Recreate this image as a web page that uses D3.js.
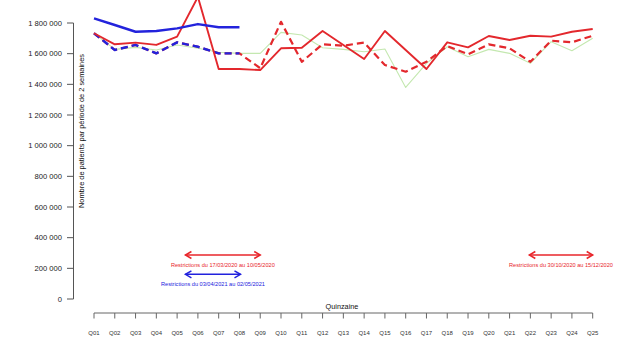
<!DOCTYPE html>
<html>
<head>
<meta charset="utf-8">
<script src="https://cdn.jsdelivr.net/npm/d3@7"></script>
<style>
  body { margin: 0; background: #fff; }
  svg { font-family: "Liberation Sans", Arial, sans-serif; }
</style>
</head>
<body>
<div id="chart"></div>
<script>
// quinzaines
const quinzaines = d3.range(1, 26).map(function(d){ return "Q" + (d < 10 ? "0" + d : d); });

// 2020 observed (red solid), 2020 expected (red dashed)
const obs2020 = [1733000, 1661000, 1672000, 1657000, 1711000, 1970000, 1500000, 1500000, 1493000,
  1635000, 1639000, 1748000, 1657000, 1565000, 1748000, 1624000, 1500000, 1674000, 1641000,
  1715000, 1689000, 1717000, 1711000, 1743000, 1761000];
const exp2020 = [1733000, 1624000, 1657000, 1602000, 1674000, 1645000, 1602000, 1602000, 1505000,
  1808000, 1547000, 1661000, 1652000, 1672000, 1526000, 1482000, 1547000, 1650000, 1596000,
  1661000, 1635000, 1547000, 1685000, 1674000, 1717000];
// 2021 observed (blue solid), 2021 expected (blue dashed)
const obs2021 = [1830000, 1787000, 1743000, 1748000, 1765000, 1793000, 1772000, 1772000];
const exp2021 = [1733000, 1624000, 1657000, 1602000, 1674000, 1645000, 1602000, 1602000];
// reference year (light green)
const ref = [1733000, 1628000, 1641000, 1624000, 1657000, 1635000, 1609000, 1602000, 1602000,
  1739000, 1722000, 1639000, 1628000, 1613000, 1630000, 1380000, 1537000, 1645000, 1580000,
  1628000, 1602000, 1537000, 1678000, 1619000, 1700000];

const yTicks = [0, 200000, 400000, 600000, 800000, 1000000, 1200000, 1400000, 1600000, 1800000];

// restriction periods: [start index, end index, y value, label]
const restrictions = [
  {x0: 4.4, x1: 8.0, y: 287000, label: "Restrictions du 17/03/2020 au 10/05/2020", color: "#e8262b"},
  {x0: 4.4, x1: 7.05, y: 161000, label: "Restrictions du 03/04/2021 au 02/05/2021", color: "#2222dd"},
  {x0: 20.95, x1: 24.0, y: 287000, label: "Restrictions du 30/10/2020 au 15/12/2020", color: "#e8262b"}
];

const W = 641, H = 361;
const svg = d3.select("#chart").append("svg").attr("width", W).attr("height", H);

const x = d3.scaleLinear().domain([0, 24]).range([94, 592.7]);
const y = d3.scaleLinear().domain([0, 1800000]).range([299, 23]);
const fmt = d3.formatLocale({decimal: ",", thousands: "\u00a0", grouping: [3], currency: ["", "€"]}).format(",d");

const red = "#e3282d", blue = "#2323dc", green = "#c4e8b0";

// y axis
const yAxis = svg.append("g").attr("stroke", "#555");
yAxis.append("line").attr("x1", 73.5).attr("x2", 73.5).attr("y1", y(0)).attr("y2", y(1800000));
yTicks.forEach(function(t){
  yAxis.append("line").attr("x1", 67).attr("x2", 73.5).attr("y1", y(t)).attr("y2", y(t));
  svg.append("text").attr("x", 62).attr("y", y(t)).attr("dy", "0.35em")
    .attr("text-anchor", "end").style("font-size", "7.6px").style("fill", "#222")
    .text(fmt(t));
});
svg.append("text")
  .attr("transform", "translate(84," + 131 + ") rotate(-90)")
  .attr("text-anchor", "middle").style("font-size", "7.4px").style("fill", "#111")
  .text("Nombre de patients par période de 2 semaines");

// x axis
const xAxis = svg.append("g").attr("stroke", "#666");
xAxis.append("line").attr("x1", x(0)).attr("x2", x(24)).attr("y1", 313).attr("y2", 313);
quinzaines.forEach(function(q, i){
  xAxis.append("line").attr("x1", x(i)).attr("x2", x(i)).attr("y1", 313).attr("y2", 318.5);
  svg.append("text").attr("x", x(i)).attr("y", 335).attr("text-anchor", "middle")
    .style("font-size", "6px").style("fill", "#333").text(q);
});
svg.append("text").attr("x", 342).attr("y", 308.5).attr("text-anchor", "middle")
  .style("font-size", "7.3px").style("fill", "#111").text("Quinzaine");

// lines
const line = d3.line().x(function(d, i){ return x(i); }).y(function(d){ return y(d); });
function drawLine(data, color, width, dash){
  svg.append("path").datum(data).attr("d", line)
    .attr("fill", "none").attr("stroke", color).attr("stroke-width", width)
    .attr("stroke-linejoin", "round")
    .attr("stroke-dasharray", dash || null);
}
drawLine(ref, green, 1.1);
drawLine(exp2020, red, 2.2, "7,4");
drawLine(exp2021, blue, 2.4, "7,4");
drawLine(obs2020, red, 1.9);
drawLine(obs2021, blue, 2.4);

// restriction arrows
restrictions.forEach(function(r){
  const g = svg.append("g").attr("stroke", r.color).attr("stroke-width", 1.5).attr("fill", "none");
  const ya = y(r.y), xa = x(r.x0), xb = x(r.x1);
  g.append("line").attr("x1", xa).attr("x2", xb).attr("y1", ya).attr("y2", ya);
  g.append("path").attr("d", "M" + (xa + 6) + "," + (ya - 3.5) + "L" + xa + "," + ya + "L" + (xa + 6) + "," + (ya + 3.5));
  g.append("path").attr("d", "M" + (xb - 6) + "," + (ya - 3.5) + "L" + xb + "," + ya + "L" + (xb - 6) + "," + (ya + 3.5));
  svg.append("text").attr("x", (xa + xb) / 2 + (r.x1 - r.x0 < 3 ? 0 : 0)).attr("y", ya + 12)
    .attr("text-anchor", "middle").style("font-size", "5.6px").style("fill", r.color)
    .text(r.label);
});
</script>
</body>
</html>
